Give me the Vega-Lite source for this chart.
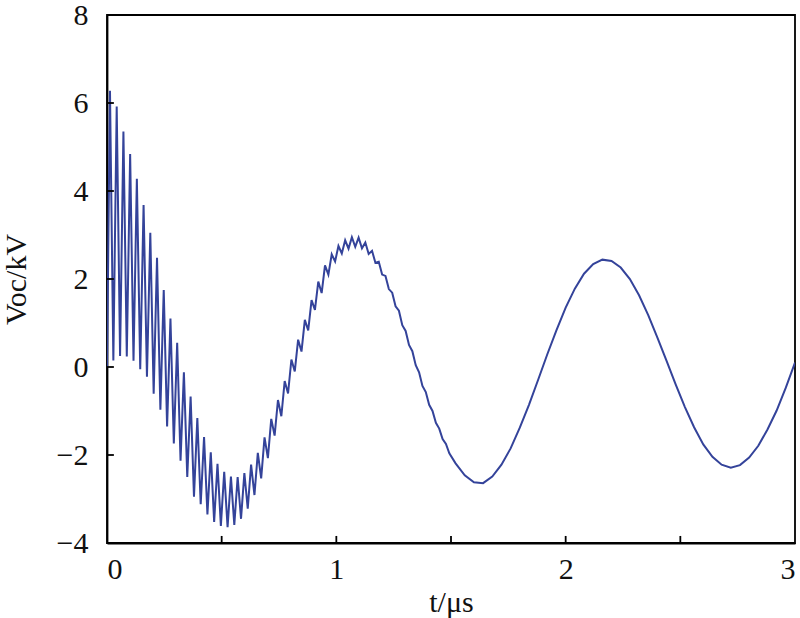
{
  "$schema": "https://vega.github.io/schema/vega-lite/v6.json",
  "width": 688,
  "height": 528,
  "autosize": {"type": "none"},
  "padding": {"left": 107, "top": 15, "right": 5, "bottom": 75},
  "background": "white",
  "config": {
    "view": {"stroke": "black", "strokeWidth": 1.8},
    "font": "Liberation Serif, Times New Roman, DejaVu Serif, serif",
    "axis": {
      "grid": false,
      "domainColor": "black",
      "domainWidth": 1.8,
      "ticks": false,
      "tickSize": 0,
      "labelFont": "Liberation Serif, Times New Roman, DejaVu Serif, serif",
      "labelFontSize": 30,
      "labelColor": "#111",
      "titleFont": "Liberation Serif, Times New Roman, DejaVu Serif, serif",
      "titleFontSize": 30,
      "titleFontWeight": "normal",
      "titleColor": "#111"
    }
  },
  "datasets": {
    "signal": [
      {"t": 0, "v": 0},
      {"t": 0.013, "v": 6.28}, {"t": 0.0277, "v": 0.15}, {"t": 0.0423, "v": 5.92}, {"t": 0.057, "v": 0.25},
      {"t": 0.0716, "v": 5.35}, {"t": 0.0863, "v": 0.24}, {"t": 0.1009, "v": 4.84}, {"t": 0.1156, "v": 0.14},
      {"t": 0.1302, "v": 4.28}, {"t": 0.1449, "v": -0.05}, {"t": 0.1595, "v": 3.68}, {"t": 0.1742, "v": -0.22},
      {"t": 0.1888, "v": 3.05}, {"t": 0.2035, "v": -0.61}, {"t": 0.2181, "v": 2.48}, {"t": 0.2328, "v": -0.97},
      {"t": 0.2474, "v": 1.75}, {"t": 0.2621, "v": -1.35}, {"t": 0.2767, "v": 1.1}, {"t": 0.2914, "v": -1.74},
      {"t": 0.306, "v": 0.55}, {"t": 0.3207, "v": -2.13}, {"t": 0.3353, "v": -0.12}, {"t": 0.35, "v": -2.5},
      {"t": 0.3646, "v": -0.67}, {"t": 0.3793, "v": -2.95}, {"t": 0.3939, "v": -1.16}, {"t": 0.4086, "v": -3.12},
      {"t": 0.4232, "v": -1.59}, {"t": 0.4379, "v": -3.35}, {"t": 0.4525, "v": -1.94}, {"t": 0.4672, "v": -3.52},
      {"t": 0.4818, "v": -2.2}, {"t": 0.4965, "v": -3.61}, {"t": 0.5111, "v": -2.38}, {"t": 0.5258, "v": -3.64},
      {"t": 0.5404, "v": -2.49}, {"t": 0.5551, "v": -3.59}, {"t": 0.5697, "v": -2.5}, {"t": 0.5844, "v": -3.45},
      {"t": 0.599, "v": -2.41}, {"t": 0.6137, "v": -3.22}, {"t": 0.6283, "v": -2.22}, {"t": 0.643, "v": -2.91},
      {"t": 0.6576, "v": -1.95}, {"t": 0.6723, "v": -2.53}, {"t": 0.6869, "v": -1.6}, {"t": 0.7016, "v": -2.07},
      {"t": 0.7162, "v": -1.18}, {"t": 0.7309, "v": -1.56}, {"t": 0.7455, "v": -0.75}, {"t": 0.7602, "v": -1.12},
      {"t": 0.7748, "v": -0.32}, {"t": 0.7895, "v": -0.6}, {"t": 0.8041, "v": 0.17}, {"t": 0.8188, "v": -0.1},
      {"t": 0.8334, "v": 0.62}, {"t": 0.8481, "v": 0.35}, {"t": 0.8627, "v": 1.07}, {"t": 0.8774, "v": 0.83},
      {"t": 0.892, "v": 1.52}, {"t": 0.9067, "v": 1.3}, {"t": 0.9213, "v": 1.94}, {"t": 0.936, "v": 1.68},
      {"t": 0.9506, "v": 2.31}, {"t": 0.9653, "v": 2.1}, {"t": 0.9799, "v": 2.56}, {"t": 0.9946, "v": 2.4},
      {"t": 1.0092, "v": 2.75}, {"t": 1.0239, "v": 2.58}, {"t": 1.0385, "v": 2.88}, {"t": 1.0532, "v": 2.69},
      {"t": 1.0678, "v": 2.95}, {"t": 1.0825, "v": 2.73}, {"t": 1.0971, "v": 2.94}, {"t": 1.1118, "v": 2.7},
      {"t": 1.1264, "v": 2.83}, {"t": 1.1411, "v": 2.57}, {"t": 1.1557, "v": 2.64}, {"t": 1.1704, "v": 2.37},
      {"t": 1.185, "v": 2.39}, {"t": 1.1997, "v": 2.1}, {"t": 1.2143, "v": 2.07}, {"t": 1.229, "v": 1.77},
      {"t": 1.2436, "v": 1.69}, {"t": 1.2583, "v": 1.38}, {"t": 1.2729, "v": 1.28}, {"t": 1.2876, "v": 0.95},
      {"t": 1.3022, "v": 0.82}, {"t": 1.3169, "v": 0.5}, {"t": 1.3315, "v": 0.36}, {"t": 1.3462, "v": 0.04},
      {"t": 1.3608, "v": -0.12}, {"t": 1.3755, "v": -0.43}, {"t": 1.3901, "v": -0.57}, {"t": 1.4048, "v": -0.86},
      {"t": 1.4194, "v": -1.0}, {"t": 1.4341, "v": -1.27}, {"t": 1.4487, "v": -1.4}, {"t": 1.4634, "v": -1.64},
      {"t": 1.478, "v": -1.75}, {"t": 1.4927, "v": -1.96},
      {"t": 1.52, "v": -2.19}, {"t": 1.56, "v": -2.46}, {"t": 1.6, "v": -2.62}, {"t": 1.64, "v": -2.64},
      {"t": 1.68, "v": -2.49}, {"t": 1.72, "v": -2.22}, {"t": 1.76, "v": -1.85}, {"t": 1.8, "v": -1.38},
      {"t": 1.84, "v": -0.86}, {"t": 1.88, "v": -0.29}, {"t": 1.92, "v": 0.29}, {"t": 1.96, "v": 0.84},
      {"t": 2.0, "v": 1.35}, {"t": 2.04, "v": 1.78}, {"t": 2.08, "v": 2.12}, {"t": 2.12, "v": 2.34},
      {"t": 2.16, "v": 2.44}, {"t": 2.2, "v": 2.41}, {"t": 2.24, "v": 2.26}, {"t": 2.28, "v": 2.0},
      {"t": 2.32, "v": 1.63}, {"t": 2.36, "v": 1.18}, {"t": 2.4, "v": 0.67}, {"t": 2.44, "v": 0.14},
      {"t": 2.48, "v": -0.4}, {"t": 2.52, "v": -0.91}, {"t": 2.56, "v": -1.37}, {"t": 2.6, "v": -1.76},
      {"t": 2.64, "v": -2.04}, {"t": 2.68, "v": -2.22}, {"t": 2.72, "v": -2.29}, {"t": 2.76, "v": -2.23},
      {"t": 2.8, "v": -2.06}, {"t": 2.84, "v": -1.79}, {"t": 2.88, "v": -1.42}, {"t": 2.92, "v": -0.99},
      {"t": 2.96, "v": -0.47}, {"t": 3.0, "v": 0.1}
    ],
    "xticks": [{"t": 0.5}, {"t": 1}, {"t": 1.5}, {"t": 2}, {"t": 2.5}],
    "yticks": [{"v": -2}, {"v": 0}, {"v": 2}, {"v": 4}, {"v": 6}]
  },
  "layer": [
    {
      "data": {"name": "signal"},
      "mark": {"type": "line", "color": "#34439a", "strokeWidth": 2, "clip": true},
      "encoding": {
        "x": {
          "field": "t",
          "type": "quantitative",
          "scale": {"domain": [0, 3], "nice": false, "zero": false},
          "axis": {
            "title": "t/μs",
            "values": [0, 1, 2, 3],
            "format": "d",
            "labelPadding": 11,
            "titleBaseline": "alphabetic",
            "titleY": 68
          }
        },
        "y": {
          "field": "v",
          "type": "quantitative",
          "scale": {"domain": [-4, 8], "nice": false},
          "axis": {
            "title": "Voc/kV",
            "values": [-4, -2, 0, 2, 4, 6, 8],
            "labelPadding": 19,
            "titleBaseline": "alphabetic",
            "titleX": -82
          }
        }
      }
    },
    {
      "data": {"name": "xticks"},
      "mark": {"type": "rule", "color": "black", "strokeWidth": 1.8},
      "encoding": {
        "x": {"field": "t", "type": "quantitative"},
        "y": {"datum": -4},
        "y2": {"datum": -3.84}
      }
    },
    {
      "data": {"name": "yticks"},
      "mark": {"type": "rule", "color": "black", "strokeWidth": 1.8},
      "encoding": {
        "y": {"field": "v", "type": "quantitative"},
        "x": {"datum": 0},
        "x2": {"datum": 0.03}
      }
    }
  ]
}
